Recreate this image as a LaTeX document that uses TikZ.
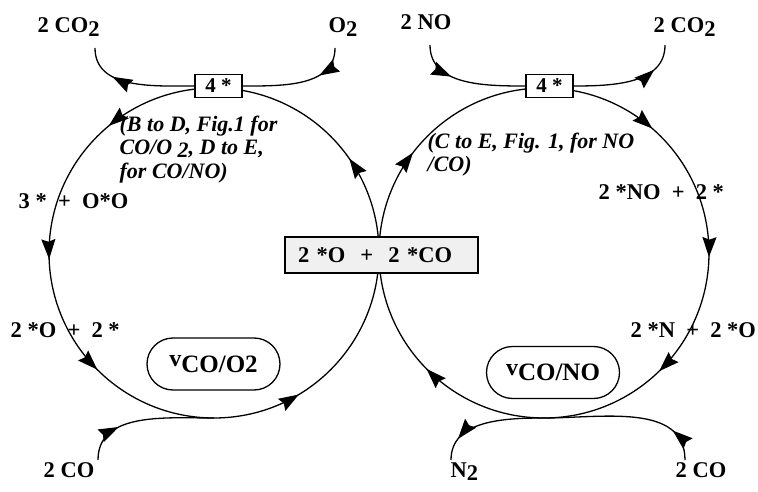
\documentclass[tikz,border=0pt]{standalone}
\usepackage{fontspec}
\setmainfont{Liberation Serif}
\usetikzlibrary{arrows.meta,decorations.markings,shapes.misc}
\newcommand{\lowtwo}{\raisebox{-0.3ex}{2}}
\newcommand{\ratev}{{\fontsize{24}{24}\selectfont\raisebox{5.5pt}{v}}}

\begin{document}
\begin{tikzpicture}[
  x=1pt, y=1pt,
  line width=1.3pt,
  lbl/.style={font=\fontsize{22.5}{24}\selectfont\bfseries, inner sep=0pt},
  note/.style={font=\fontsize{22}{23.5}\selectfont\bfseries\itshape, align=left, inner sep=0pt},
  sitebox/.style={draw, fill=white, font=\fontsize{21}{22}\selectfont\bfseries,
    minimum width=47, minimum height=23, inner sep=0pt},
  midbox/.style={draw, fill=gray!12, font=\fontsize{22.5}{24}\selectfont\bfseries,
    text width=167, align=left, inner xsep=13, minimum height=36, inner ysep=0pt},
  ratebox/.style={draw, rounded rectangle, font=\fontsize{25}{26}\selectfont\bfseries,
    minimum width=133, minimum height=52, inner sep=0pt},
  tipat/.style={postaction={decorate, decoration={markings,
    mark=at position #1 with {\arrow{Stealth[length=20pt, width=14pt, inset=2.5pt]}}}}}
]
  \useasboundingbox (0,0) rectangle (758,491);

  % centres of the two cycles
  \coordinate (cL) at (214,238);
  \coordinate (cR) at (544,238);
  \coordinate (topR) at (544,403);
  \coordinate (botL) at (214,73);
  \coordinate (botR) at (544,73);

  % CO/O2 cycle (counter-clockwise)
  \draw[tipat=0.097, tipat=0.36, tipat=0.506, tipat=0.625, tipat=0.836]
    (cL) circle[radius=165];
  % CO/NO cycle (clockwise)
  \draw[tipat=0.114, tipat=0.254, tipat=0.377, tipat=0.626, tipat=0.854]
    (topR) arc[start angle=90, end angle=-270, radius=165];

  % sites and intermediates
  \node[sitebox] (siteL) at (218.5,405) {4 *};
  \node[sitebox] (siteR) at (549.5,405) {4 *};
  \node[midbox] (mid) at (381.5,236) {2 *O ~+~ 2 *CO};
  \node[ratebox] (rateL) at (213.5,127) {\ratev CO/O2};
  \node[ratebox] (rateR) at (553,118.5) {\ratev CO/NO};

  % gas phase species
  \node[lbl, anchor=base west] (co2L) at (37,458) {2 CO\lowtwo};
  \node[lbl, anchor=base west] (o2) at (328,458) {O\lowtwo};
  \node[lbl, anchor=base west] (no) at (400,461) {2 NO};
  \node[lbl, anchor=base west] (co2R) at (653,458) {2 CO\lowtwo};
  \node[lbl, anchor=base west] (coL) at (43,14) {2 CO};
  \node[lbl, anchor=base west] (n2) at (450,14) {N\lowtwo};
  \node[lbl, anchor=base west] (coR) at (675,14) {2 CO};

  \coordinate (co2Lend) at (95,443);
  \coordinate (o2end) at (335,443);
  \coordinate (noend) at (430,446);
  \coordinate (co2Rend) at (665,446);
  \coordinate (coLend) at (98,31);
  \coordinate (n2end) at (451,31);
  \coordinate (coRend) at (685,31);

  % adsorbed states along the cycles
  \node[lbl, anchor=base west] (s3L) at (18,283) {3 * ~+~ O*O};
  \node[lbl, anchor=base west] (s2L) at (10,154) {2 *O ~+~ 2 *};
  \node[lbl, anchor=base west] (s3R) at (598,291) {2 *NO ~+~ 2 *};
  \node[lbl, anchor=base west] (s2R) at (630,154) {2 *N ~+~ 2 *O};

  \node[note, anchor=north west] (noteL) at (119,376)
    {(B to D, Fig.1 for\\CO/O \lowtwo, D to E,\\for CO/NO)};
  \node[note, anchor=north west] (noteR) at (427,359)
    {(C to E, Fig. 1, for NO\\/CO)};

  % gas in / out
  \draw[tipat=0.7] (siteL.west) to[out=180, in=-90] (co2Lend);
  \draw[tipat=0.3] (o2end) to[out=-90, in=0] (siteL.east);
  \draw[tipat=0.35] (noend) to[out=-90, in=180] (siteR.west);
  \draw[tipat=0.75] (siteR.east) to[out=0, in=-90] (co2Rend);
  \draw[tipat=0.3] (coLend) to[out=90, in=180] (botL);
  \draw[tipat=0.8] (botR) to[out=180, in=90] (n2end);
  \draw[tipat=0.2] (coRend) to[out=90, in=0] (botR);
\end{tikzpicture}
\end{document}
